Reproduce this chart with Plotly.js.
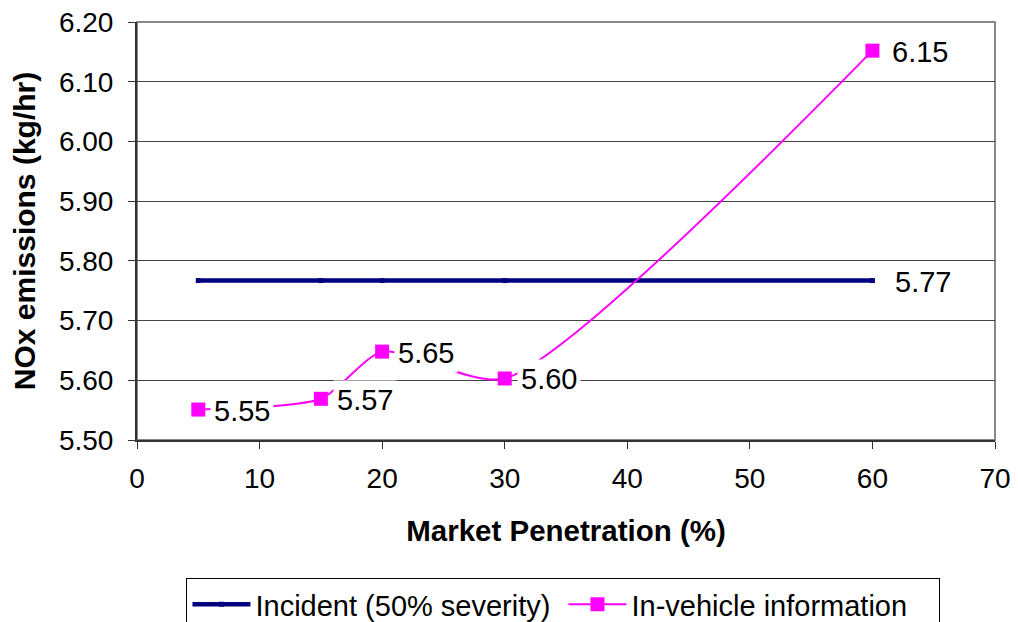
<!DOCTYPE html>
<html><head><meta charset="utf-8">
<script src="https://cdn.plot.ly/plotly-3.0.1.min.js"></script>
<style>html,body{margin:0;padding:0;background:#fff}</style>
</head><body>
<div id="chart" style="width:1018px;height:622px"></div>
<script>
const penetration = [5, 15, 20, 30, 60];
const incident = [5.767, 5.767, 5.767, 5.767, 5.767];
const inVehicle = [5.551, 5.569, 5.648, 5.603, 6.152];
const inVehicleLabels = ["5.55", "5.57", "5.65", "5.60", "6.15"];
const incidentLabel = "5.77";
const seriesNames = ["Incident (50% severity)", "In-vehicle information"];

const FONT = "Liberation Sans, Arial, sans-serif";

const traces = [
  {x: penetration, y: incident, name: seriesNames[0], type: "scatter", mode: "lines+markers",
   line: {color: "#000080", width: 4.5}, marker: {color: "#000080", size: 5, symbol: "square"}},
  {x: penetration, y: inVehicle, name: seriesNames[1], type: "scatter", mode: "lines+markers",
   line: {color: "#FF00FF", width: 2, shape: "spline", smoothing: 0.65}, marker: {color: "#FF00FF", size: 14, symbol: "square"}}
];

const annotations = penetration.map((xv, i) => ({
  x: xv, y: inVehicle[i], xref: "x", yref: "y", text: inVehicleLabels[i], showarrow: false,
  xanchor: "left", yanchor: "middle", xshift: i === 4 ? 16 : 12, yshift: -1, bgcolor: "#ffffff", borderpad: 3,
  font: {family: FONT, size: 29, color: "#000"}
}));
annotations.push({
  x: penetration[penetration.length - 1], y: incident[incident.length - 1], xref: "x", yref: "y",
  text: incidentLabel, showarrow: false, xanchor: "left", yanchor: "middle", xshift: 20, yshift: -1,
  bgcolor: "#ffffff", borderpad: 2, font: {family: FONT, size: 29, color: "#000"}
});

const layout = {
  width: 1018, height: 622,
  margin: {l: 137, r: 23, t: 22, b: 182},
  paper_bgcolor: "#fff", plot_bgcolor: "#fff",
  font: {family: FONT, color: "#000"},
  showlegend: true,
  legend: {orientation: "h", x: 0.5535, xref: "container", xanchor: "center", y: 0.071, yref: "container", yanchor: "top",
    bordercolor: "#000", borderwidth: 1, font: {family: FONT, size: 29, color: "#000"},
    itemwidth: 58, entrywidth: 303, entrywidthmode: "pixels", tracegroupgap: 0},
  xaxis: {range: [0, 70], dtick: 10, tick0: 0, showgrid: false, zeroline: false, automargin: "bottom",
    showline: true, linecolor: "#333", linewidth: 2, ticks: "outside", ticklen: 7, tickcolor: "#333",
    ticklabelstandoff: 5,
    tickfont: {family: FONT, size: 28},
    title: {text: "<b>Market Penetration (%)</b>", font: {family: FONT, size: 29.5}, standoff: 28}},
  yaxis: {range: [5.5, 6.2], dtick: 0.1, tick0: 5.5, tickformat: ".2f", showgrid: true,
    gridcolor: "#444", gridwidth: 1, zeroline: false, automargin: "left",
    showline: true, linecolor: "#333", linewidth: 2, ticks: "outside", ticklen: 7, tickcolor: "#333",
    ticklabelstandoff: 9,
    tickfont: {family: FONT, size: 28},
    title: {text: "<b>NOx emissions (kg/hr)</b>", font: {family: FONT, size: 30}, standoff: 14}},
  shapes: [{type: "rect", xref: "paper", yref: "paper", x0: 0, x1: 1, y0: 0, y1: 1,
    line: {color: "#888", width: 2}, layer: "below"}],
  annotations: annotations
};

Plotly.newPlot("chart", traces, layout, {displayModeBar: false, staticPlot: true});
</script>
</body></html>
